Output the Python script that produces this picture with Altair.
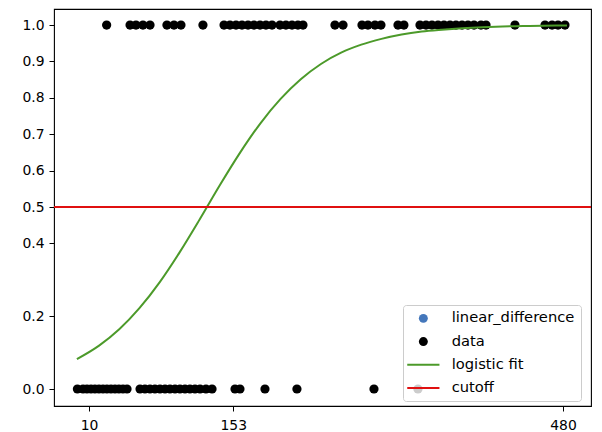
import altair as alt
import pandas as pd

# ---- data ----
series_names = ["linear_difference", "data", "logistic fit", "cutoff"]
series_colors = ["#4477bb", "#000000", "#4c9a2a", "#e01010"]

top_x = [27.5, 50.7, 56.6, 63.5, 70.5, 87.3, 94.3, 101.2, 123.0, 143.9, 149.8,
         155.8, 161.7, 167.7, 173.6, 179.6, 185.5, 191.5, 199.4, 205.3, 211.3,
         217.2, 222.2, 253.9, 261.9, 280.7, 286.6, 293.6, 299.5, 316.4, 322.3,
         338.2, 344.2, 350.1, 356.1, 362.0, 368.0, 373.9, 379.9, 385.8, 391.8,
         398.7, 403.7, 432.4, 462.2, 469.2, 475.1, 482.0]
bottom_x = [-1.5, 4.1, 8.0, 12.0, 15.9, 19.9, 23.9, 27.8, 31.8, 35.8, 39.7,
            43.7, 47.7, 60.6, 65.5, 70.5, 75.4, 80.4, 85.4, 90.3, 95.3, 100.2,
            105.2, 110.1, 115.1, 120.1, 126.0, 132.0, 154.8, 159.7, 184.5,
            216.2, 292.6, 336.2]

curve_x = [-2, 20, 40, 60, 80, 100, 120, 140, 160, 180, 200, 220, 240, 260,
           280, 300, 320, 340, 360, 380, 400, 420, 440, 460, 484]
curve_p = [0.082, 0.119, 0.164, 0.222, 0.293, 0.376, 0.467, 0.561, 0.650,
           0.730, 0.797, 0.851, 0.893, 0.924, 0.946, 0.962, 0.974, 0.982,
           0.987, 0.991, 0.994, 0.996, 0.997, 0.998, 0.999]

cutoff_value = 0.5

x_ticks = [10, 153, 480]
y_ticks = [0.0, 0.2, 0.4, 0.5, 0.6, 0.7, 0.8, 0.9, 1.0]

# ---- tables ----
df_pts = pd.DataFrame({
    "x": top_x + bottom_x,
    "y": [1.0] * len(top_x) + [0.0] * len(bottom_x),
    "series": ["data"] * (len(top_x) + len(bottom_x)),
})
df_curve = pd.DataFrame({"x": curve_x, "y": curve_p})
df_cut = pd.DataFrame({"y": [cutoff_value]})

x_scale = alt.Scale(domain=[-24.7, 507.8], nice=False, zero=False)
y_scale = alt.Scale(domain=[-0.0467, 1.044], nice=False, zero=False)

axis_common = dict(title=None, grid=False, domain=False, ticks=True, tickSize=5,
                   tickColor="black", tickWidth=1, labelFontSize=13.9,
                   labelColor="black", labelFont="DejaVu Sans", labelFlush=False)
x_axis = alt.Axis(values=x_ticks, format="d", labelPadding=7, **axis_common)
y_axis = alt.Axis(values=y_ticks, format=".1f", labelPadding=5, **axis_common)

X = alt.X("x:Q", scale=x_scale, axis=x_axis)
Y = alt.Y("y:Q", scale=y_scale, axis=y_axis)

# legend handle for the line entries: a thin filled bar (drawn as a symbol)
line_path = "M-3.6,-0.224H3.6V0.224H-3.6Z"
shapes = ["circle", "circle", line_path, line_path]

legend = alt.Legend(
    title=None, orient="none", legendX=349, legendY=296,
    fillColor="rgba(255,255,255,0.8)", strokeColor="#cccccc", cornerRadius=3,
    padding=6, labelFontSize=14.7, labelFont="DejaVu Sans", labelColor="black",
    symbolSize=80, symbolOffset=7, labelOffset=21, rowPadding=7.2,
    symbolOpacity=1, symbolStrokeWidth=0,
)

pts = alt.Chart(df_pts).mark_point(filled=True, size=85, opacity=1).encode(
    x=X, y=Y,
    color=alt.Color("series:N", scale=alt.Scale(domain=series_names, range=series_colors), legend=legend),
    shape=alt.Shape("series:N", scale=alt.Scale(domain=series_names, range=shapes), legend=legend),
)

fit = alt.Chart(df_curve).mark_line(color=series_colors[2], strokeWidth=2, interpolate="monotone").encode(
    x=X, y=Y
)

cut = alt.Chart(df_cut).mark_rule(color=series_colors[3], strokeWidth=2).encode(y=Y)

chart = alt.layer(pts, fit, cut).properties(
    width=537, height=397,
    padding={"left": 46, "top": 1, "right": 3, "bottom": 30},
    autosize=alt.AutoSizeParams(type="none"),
).configure_view(stroke="black", strokeWidth=1.1)

chart.save("out.html", embed_options={"renderer": "svg", "actions": False})
